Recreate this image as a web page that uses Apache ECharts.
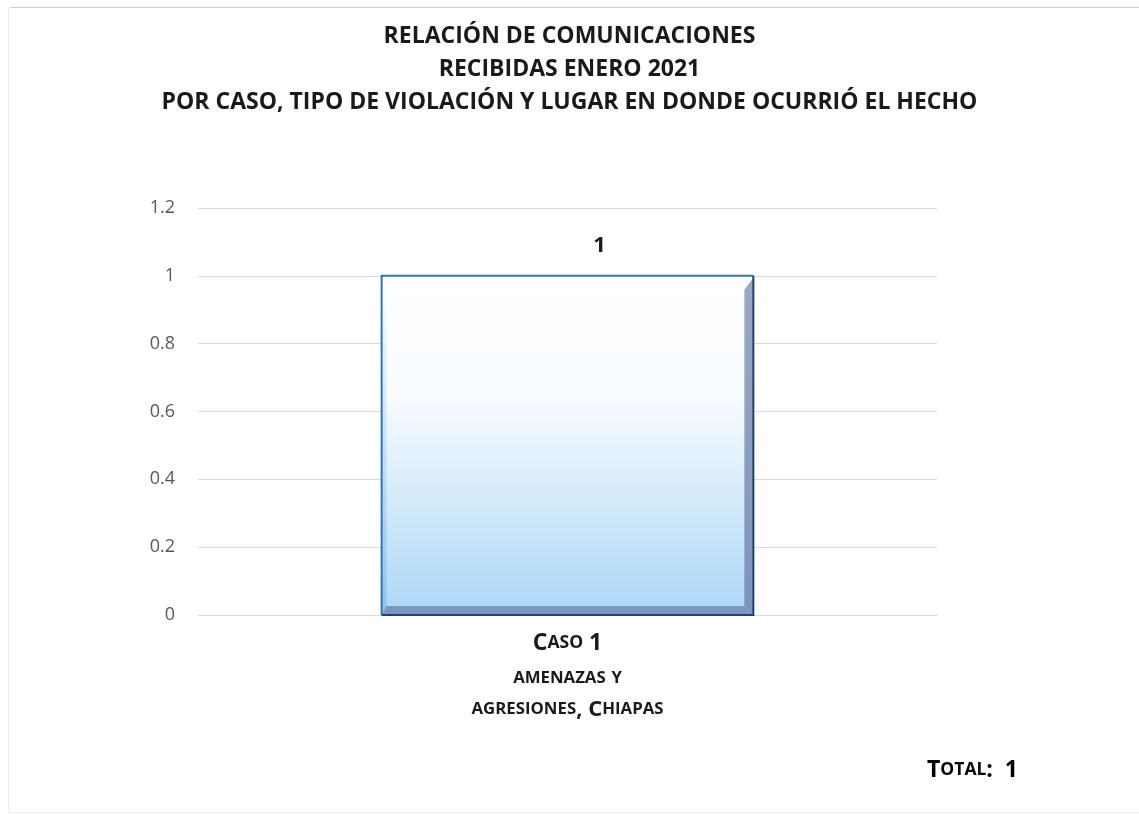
<!DOCTYPE html>
<html>
<head>
<meta charset="utf-8">
<script src="https://cdn.jsdelivr.net/npm/echarts@6/dist/echarts.min.js"></script>
<style>
  html, body { margin: 0; padding: 0; background: #ffffff; }
  #chart { width: 1139px; height: 815px; }
</style>
</head>
<body>
<div id="chart"></div>
<script>
// Communications received, January 2021
const titleLines = [
  'RELACIÓN DE COMUNICACIONES',
  'RECIBIDAS ENERO 2021',
  'POR CASO, TIPO DE VIOLACIÓN Y LUGAR EN DONDE OCURRIÓ EL HECHO'
];
const categories = ['Caso 1'];
const categoryDetail = ['amenazas y', 'agresiones, Chiapas'];
const values = [1];
const yTicks = { min: 0, max: 1.2, interval: 0.2 };
const totalLabel = 'Total:';
const totalValue = 1;

const FONT = '"Open Sans", sans-serif';
const INK = '#1a1a1a';

// small-caps helper: capitals in style `big`, lowercase letters as small capitals in style `small`
function smallCaps(text, big, small) {
  let out = '';
  let buf = '', mode = null;
  const flush = () => { if (buf) out += '{' + mode + '|' + buf + '}'; buf = ''; };
  for (const ch of text) {
    const m = (ch === ch.toLowerCase() && ch !== ch.toUpperCase()) ? small : big;
    if (m !== mode) { flush(); mode = m; }
    buf += m === small ? ch.toUpperCase() : ch;
  }
  flush();
  return out;
}

const capStyle = (size, lh) => ({ fontFamily: FONT, fontWeight: 'bold', fontSize: size, color: INK, lineHeight: lh });

const chart = echarts.init(document.getElementById('chart'));

chart.setOption({
  backgroundColor: '#ffffff',
  animation: false,
  title: {
    text: titleLines.join('\n'),
    left: 'center',
    top: 15,
    textStyle: {
      fontFamily: FONT, fontWeight: 'bold', fontSize: 23,
      color: INK, lineHeight: 33
    }
  },
  graphic: [
    { // chart-area frame
      type: 'line', shape: { x1: 10, y1: 7.5, x2: 1139, y2: 7.5 },
      style: { stroke: '#cfcfcf', lineWidth: 1 }
    },
    {
      type: 'line', shape: { x1: 8.5, y1: 7, x2: 8.5, y2: 812 },
      style: { stroke: '#efefef', lineWidth: 1 }
    },
    {
      type: 'line', shape: { x1: 8, y1: 812.5, x2: 1139, y2: 812.5 },
      style: { stroke: '#f0f0f0', lineWidth: 1 }
    },
    {
      type: 'text', left: 927, top: 759,
      style: {
        text: smallCaps(totalLabel, 'b', 's') + '{b|  ' + totalValue + '}',
        rich: { b: capStyle(23, 26), s: capStyle(17.5, 26) }
      }
    }
  ],
  grid: { left: 198, right: 202, top: 208, bottom: 200, containLabel: false },
  xAxis: {
    type: 'category',
    data: categories,
    axisLine: { show: true, lineStyle: { color: '#d9d9d9', width: 1 } },
    axisTick: { show: false },
    axisLabel: {
      margin: 10,
      interval: 0,
      formatter: v => [
        smallCaps(v, 'b', 's'),
        smallCaps(categoryDetail[0], 'b2', 's2'),
        smallCaps(categoryDetail[1], 'b3', 's3')
      ].join('\n'),
      rich: {
        b: capStyle(23, 36), s: capStyle(17.5, 36),
        b2: capStyle(22, 35), s2: capStyle(16.8, 35),
        b3: capStyle(22, 27), s3: capStyle(16.8, 27)
      }
    }
  },
  yAxis: {
    type: 'value',
    min: yTicks.min, max: yTicks.max, interval: yTicks.interval,
    axisLine: { show: false },
    axisTick: { show: false },
    splitLine: { lineStyle: { color: '#d9d9d9', width: 1 } },
    axisLabel: {
      margin: 23,
      fontFamily: FONT, fontSize: 18, color: '#595959',
      formatter: v => String(Math.round(v * 10) / 10)
    }
  },
  series: [{
    type: 'custom',
    data: values.map((v, i) => [i, v]),
    encode: { x: 0, y: 1 },
    renderItem: (params, api) => {
      const idx = api.value(0);
      const v = api.value(1);
      const top = api.coord([idx, v]);
      const base = api.coord([idx, 0]);
      const band = api.size([1, 0])[0];
      const w = band * 0.503;
      const x0 = top[0] - w / 2, x1 = top[0] + w / 2;
      const y0 = top[1], y1 = base[1];
      const bev = 9;
      return {
        type: 'group',
        children: [
          {
            type: 'rect',
            shape: { x: x0, y: y0, width: w, height: y1 - y0 },
            style: {
              fill: new echarts.graphic.LinearGradient(0, 0, 0, 1, [
                { offset: 0, color: '#ffffff' },
                { offset: 0.35, color: '#f8fcff' },
                { offset: 1, color: '#acd7f6' }
              ])
            }
          },
          { // left highlight bevel
            type: 'polygon',
            shape: { points: [[x0, y0], [x0 + 5, y0 + 5], [x0 + 5, y1 - bev], [x0, y1]] },
            style: {
              fill: new echarts.graphic.LinearGradient(0, 0, 0, 1, [
                { offset: 0, color: '#ffffff' },
                { offset: 1, color: '#8fc2ec' }
              ])
            }
          },
          { // right shaded bevel
            type: 'polygon',
            shape: { points: [[x1, y0 + 2], [x1, y1], [x1 - bev, y1 - bev], [x1 - bev, y0 + 14]] },
            style: {
              fill: new echarts.graphic.LinearGradient(0, 0, 0, 1, [
                { offset: 0, color: '#9aa8c4' },
                { offset: 1, color: '#7d93bd' }
              ])
            }
          },
          { // bottom shaded bevel
            type: 'polygon',
            shape: { points: [[x0, y1], [x1, y1], [x1 - bev, y1 - bev], [x0 + 5, y1 - bev]] },
            style: { fill: '#7b95c2' }
          },
          { // outline: blue top/left
            type: 'polyline',
            shape: { points: [[x0, y1], [x0, y0], [x1, y0]] },
            style: { fill: 'none', stroke: '#3476b4', lineWidth: 2 }
          },
          { // outline: dark right/bottom
            type: 'polyline',
            shape: { points: [[x1, y0], [x1, y1], [x0, y1]] },
            style: { fill: 'none', stroke: '#23416b', lineWidth: 2 }
          },
          { // value label, sits to the right of the bar centre
            type: 'text',
            x: top[0] + 32, y: y0 - 30,
            style: {
              text: String(v), align: 'center', verticalAlign: 'middle',
              fontFamily: FONT, fontWeight: 'bold', fontSize: 22, fill: INK
            }
          }
        ]
      };
    }
  }]
});
</script>
</body>
</html>
